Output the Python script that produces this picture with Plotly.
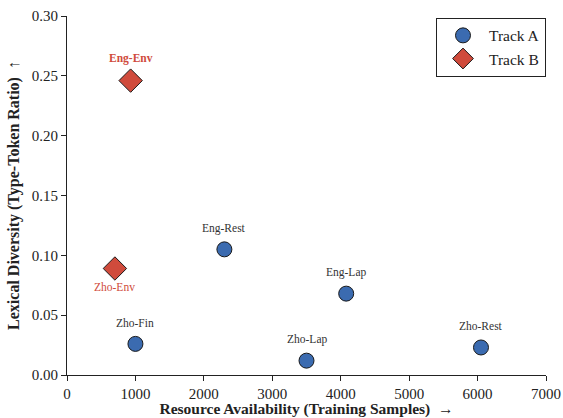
import plotly.graph_objects as go

# Data
a_names = ["Zho-Fin", "Eng-Rest", "Zho-Lap", "Eng-Lap", "Zho-Rest"]
a_x = [1000, 2300, 3500, 4080, 6050]
a_y = [0.026, 0.105, 0.012, 0.068, 0.023]

b_names = ["Eng-Env", "Zho-Env"]
b_x = [930, 700]
b_y = [0.246, 0.089]
b_label_above = [True, False]
b_label_bold = [True, False]

x_ticks = [0, 1000, 2000, 3000, 4000, 5000, 6000, 7000]
y_ticks = [0.00, 0.05, 0.10, 0.15, 0.20, 0.25, 0.30]

FONT = "Liberation Serif"
BLUE = "#3b6bb0"
RED = "#d04b3c"

fig = go.Figure()
fig.add_trace(go.Scatter(
    x=a_x, y=a_y, mode="markers", name="Track A",
    marker=dict(symbol="circle", size=15, color=BLUE, line=dict(color="#1a1a1a", width=1)),
))
fig.add_trace(go.Scatter(
    x=b_x, y=b_y, mode="markers", name="Track B",
    marker=dict(symbol="diamond", size=18, color=RED, line=dict(color="#1a1a1a", width=1)),
))

for name, x, y in zip(a_names, a_x, a_y):
    fig.add_annotation(x=x, y=y, text=name, showarrow=False, yshift=21,
                       font=dict(family=FONT, size=11.5, color="#333333"))
for name, x, y, above, bold in zip(b_names, b_x, b_y, b_label_above, b_label_bold):
    fig.add_annotation(x=x, y=y, text=f"<b>{name}</b>" if bold else name, showarrow=False,
                       yshift=22 if above else -18,
                       font=dict(family=FONT, size=11.5, color=RED))

fig.update_layout(
    width=563, height=418,
    margin=dict(l=67, r=17, t=16, b=43, autoexpand=False),
    plot_bgcolor="white", paper_bgcolor="white",
    font=dict(family=FONT, size=15, color="#222222"),
    legend=dict(x=1.0, y=0.995, xanchor="right", yanchor="top",
                bordercolor="#222222", borderwidth=1, bgcolor="white",
                font=dict(family=FONT, size=15.5), itemsizing="trace", itemwidth=42),
    showlegend=True,
)
fig.update_xaxes(
    range=[0, 7000], tickvals=x_ticks, ticktext=[str(v) for v in x_ticks],
    showline=True, linecolor="#222222", linewidth=1.2, ticks="outside", ticklen=5,
    tickcolor="#222222", showgrid=False, zeroline=False, automargin=False,
    tickfont=dict(family=FONT, size=15), ticklabeloverflow="allow",
    title=dict(text="<b>Resource Availability (Training Samples)  →</b>", font=dict(family=FONT, size=15.5), standoff=5),
)
fig.update_yaxes(
    range=[0, 0.30], tickvals=y_ticks, ticktext=[f"{v:.2f}" for v in y_ticks],
    showline=True, linecolor="#222222", linewidth=1.2, ticks="outside", ticklen=5,
    tickcolor="#222222", showgrid=False, zeroline=False, automargin=False,
    tickfont=dict(family=FONT, size=15), ticklabeloverflow="allow",
    title=dict(text="<b>Lexical Diversity (Type-Token Ratio)  ↑</b>", font=dict(family=FONT, size=16), standoff=8),
)

fig.write_html(
    "out.html",
    config={"displayModeBar": False},
    post_script="document.body.style.margin='0px';document.body.style.overflow='hidden';",
)
